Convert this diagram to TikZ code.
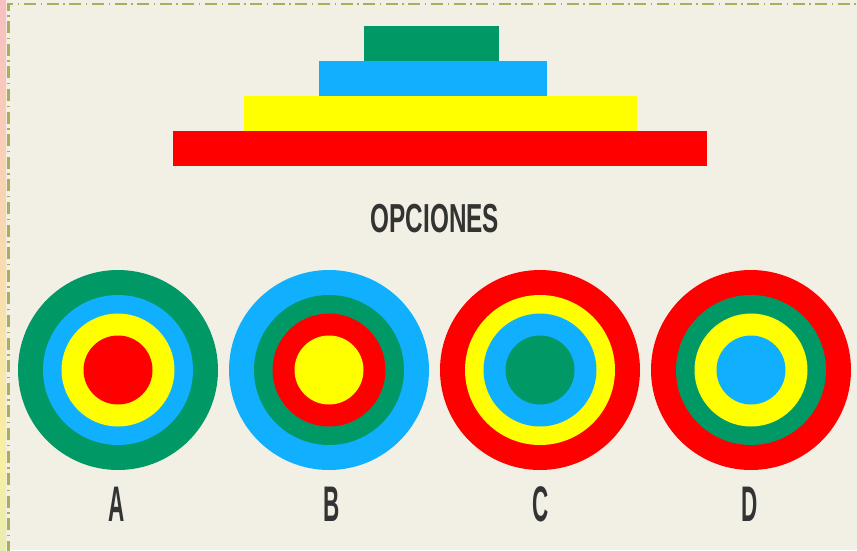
\documentclass[tikz,border=0pt]{standalone}
\usepackage{fontspec}
\setmainfont{Liberation Sans}
\definecolor{bg}{HTML}{F2F0E4}
\definecolor{tgreen}{HTML}{009966}
\definecolor{tblue}{HTML}{10B0FF}
\definecolor{tyellow}{HTML}{FFFF00}
\definecolor{tred}{HTML}{FF0000}
\definecolor{ink}{HTML}{333333}
\definecolor{olive}{HTML}{ADAB5C}
\definecolor{spink}{HTML}{F8BFC2}
\definecolor{syellow}{HTML}{F8F0A0}
\definecolor{sgreen}{HTML}{E8ECB0}
\begin{document}
\begin{tikzpicture}[x=1pt,y=-1pt,
  ring/.style={circle,inner sep=0pt,outer sep=0pt,minimum size=#1},
  optlabel/.style={text=ink,font=\bfseries\fontsize{50}{50}\selectfont,anchor=base,xscale=0.45,inner sep=0pt},
  titlelabel/.style={text=ink,font=\bfseries\fontsize{40.5}{40.5}\selectfont,anchor=base,xscale=0.6,inner sep=0pt},
  frame/.style={draw=olive,line width=2.6pt,dash pattern=on 12pt off 4.6pt on 1.4pt off 4.6pt}]
\useasboundingbox (0,0) rectangle (857,550);
\fill[bg] (0,0) rectangle (857,550);
\shade[top color=spink,bottom color=syellow] (0,0) rectangle (6,460);
\shade[top color=syellow,bottom color=sgreen] (0,460) rectangle (6,550);
\draw[frame] (8.3,553) -- (8.3,3.8) -- (862,3.8);
% pyramid
\fill[tgreen] (364,26) rectangle (499,61);
\fill[tblue] (319,61) rectangle (547,96);
\fill[tyellow] (244,96) rectangle (637,131);
\fill[tred] (173,131) rectangle (707,166);
\node[titlelabel] (title) at (435,232) {OPCIONES};
% A
\begin{scope}[shift={(118,370)}]
\node[ring=200pt,fill=tgreen] (A1) at (0,0) {};
\node[ring=150pt,fill=tblue] (A2) at (0,0) {};
\node[ring=113pt,fill=tyellow] (A3) at (0,0) {};
\node[ring=69pt,fill=tred] (A4) at (0,0) {};
\end{scope}
% B
\begin{scope}[shift={(329,370)}]
\node[ring=200pt,fill=tblue] (B1) at (0,0) {};
\node[ring=150pt,fill=tgreen] (B2) at (0,0) {};
\node[ring=113pt,fill=tred] (B3) at (0,0) {};
\node[ring=69pt,fill=tyellow] (B4) at (0,0) {};
\end{scope}
% C
\begin{scope}[shift={(540,370)}]
\node[ring=200pt,fill=tred] (C1) at (0,0) {};
\node[ring=150pt,fill=tyellow] (C2) at (0,0) {};
\node[ring=113pt,fill=tblue] (C3) at (0,0) {};
\node[ring=69pt,fill=tgreen] (C4) at (0,0) {};
\end{scope}
% D
\begin{scope}[shift={(751,370)}]
\node[ring=200pt,fill=tred] (D1) at (0,0) {};
\node[ring=150pt,fill=tgreen] (D2) at (0,0) {};
\node[ring=113pt,fill=tyellow] (D3) at (0,0) {};
\node[ring=69pt,fill=tblue] (D4) at (0,0) {};
\end{scope}
\node[optlabel] (la) at (117,521) {A};
\node[optlabel] (lb) at (332,521) {B};
\node[optlabel] (lc) at (541,521) {C};
\node[optlabel] (ld) at (750,521) {D};
\end{tikzpicture}
\end{document}
